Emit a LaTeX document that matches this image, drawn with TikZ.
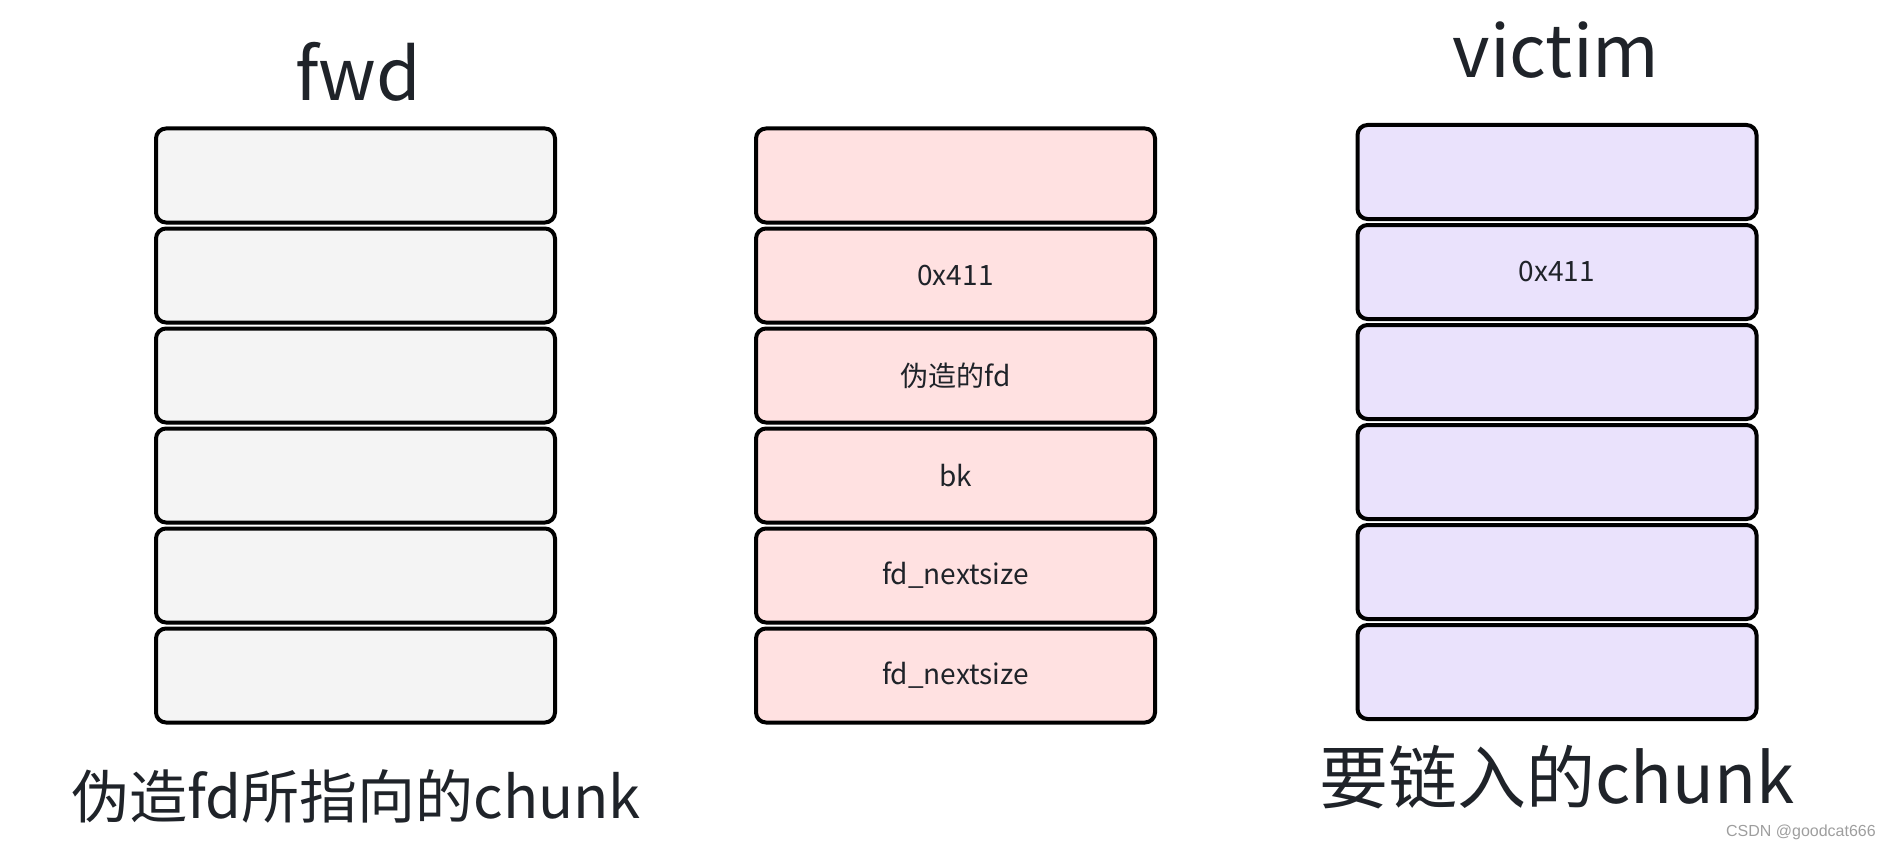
\documentclass[tikz,border=0pt]{standalone}
\usepackage{fontspec}
\setmainfont{Noto Sans CJK SC}
\newfontfamily\markfont{Liberation Sans}
\usetikzlibrary{positioning}
\definecolor{fwdfill}{HTML}{F4F4F4}
\definecolor{fakefill}{HTML}{FFE1E1}
\definecolor{vicfill}{HTML}{EAE2FC}
\definecolor{ink}{HTML}{1F2329}
\begin{document}
\begin{tikzpicture}[x=1pt,y=-1pt,node distance=100pt,on grid,
      cell/.style={draw=black,line width=4pt,rounded corners=10pt,minimum width=399pt,
        minimum height=94pt,inner sep=0pt,text=ink,font=\fontsize{28}{34}\selectfont},
      title/.style={anchor=base,inner sep=0pt,text=ink,font=\fontsize{72}{86}\selectfont},
      caption/.style={anchor=base,inner sep=0pt,text=ink}]
  \useasboundingbox (0,0) rectangle (1890,848);
  % fwd chunk
  \node[cell,fill=fwdfill] (fwd1) at (355.5,175.5) {};
  \foreach \i in {2,...,6}{
    \pgfmathtruncatemacro\p{\i-1}
    \node[cell,fill=fwdfill,below=of fwd\p] (fwd\i) {};
  }
  % fake chunk
  \node[cell,fill=fakefill] (fake1) at (955.5,175.5) {};
  \foreach \txt [count=\i from 2] in {0x411,伪造的fd,bk,fd\_nextsize,fd\_nextsize}{
    \pgfmathtruncatemacro\p{\i-1}
    \node[cell,fill=fakefill,below=of fake\p] (fake\i) {\txt};
  }
  % victim chunk
  \node[cell,fill=vicfill] (vic1) at (1557,172) {};
  \foreach \txt [count=\i from 2] in {0x411,{},{},{},{}}{
    \pgfmathtruncatemacro\p{\i-1}
    \node[cell,fill=vicfill,below=of vic\p] (vic\i) {\txt};
  }
  \node[title] (fwdttl) at (358,101) {fwd};
  \node[title] (victtl) at (1556,78) {victim};
  \node[caption,font=\fontsize{58}{70}\selectfont] (fwdcap) at (356,818) {伪造fd所指向的chunk};
  \node[caption,font=\fontsize{69}{83}\selectfont] (viccap) at (1557,803) {要链入的chunk};
  \node[anchor=base east,inner sep=0pt,text=black!38,font=\markfont\fontsize{16}{19}\selectfont]
    (mark) at (1876,836) {CSDN @goodcat666};
\end{tikzpicture}
\end{document}
